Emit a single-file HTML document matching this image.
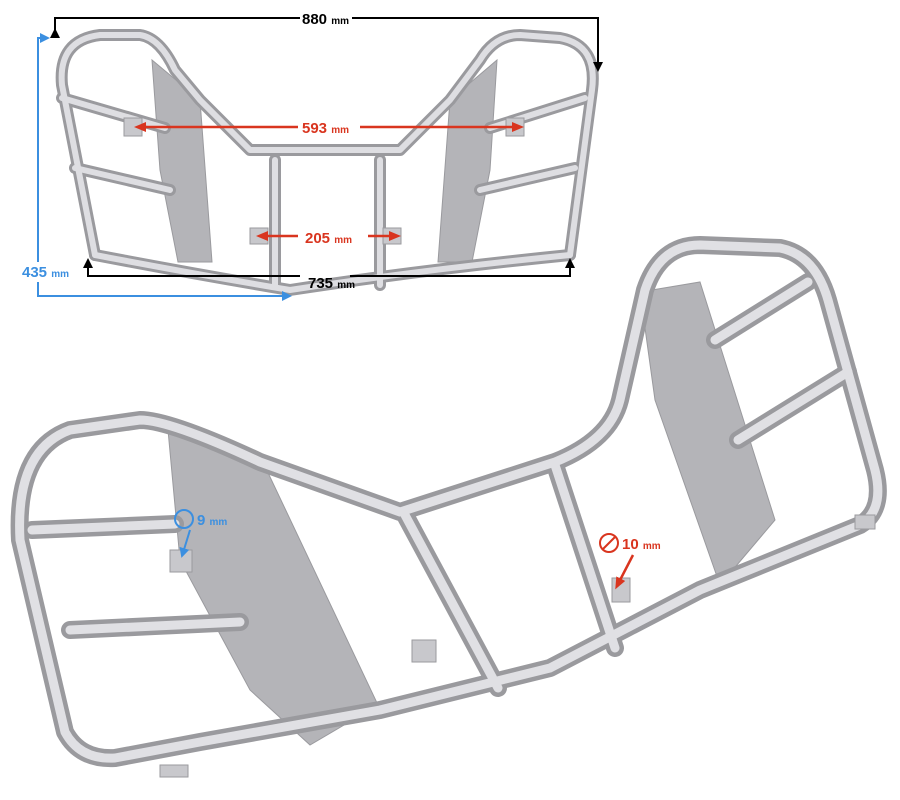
<!DOCTYPE html>
<html><head><meta charset="utf-8"><style>
html,body{margin:0;padding:0;background:#fff;}
svg{display:block;font-family:"Liberation Sans",sans-serif;font-weight:bold;}
</style></head><body>
<svg width="900" height="800" viewBox="0 0 900 800" xmlns="http://www.w3.org/2000/svg">
<defs>
<marker id="ab" markerUnits="userSpaceOnUse" markerWidth="10" markerHeight="10" refX="8" refY="5" orient="auto"><path d="M0,0 L10,5 L0,10 z" fill="#000"/></marker>
<marker id="ar" markerUnits="userSpaceOnUse" markerWidth="12" markerHeight="10" refX="6" refY="5" orient="auto-start-reverse"><path d="M0,0 L12,5 L0,10 z" fill="#d9351f"/></marker>
<marker id="au" markerUnits="userSpaceOnUse" markerWidth="10" markerHeight="10" refX="8" refY="5" orient="auto"><path d="M0,0 L10,5 L0,10 z" fill="#3b8fe0"/></marker>
</defs>
<rect width="900" height="800" fill="#fff"/>

<!-- TOP RACK plates -->
<g fill="#b4b4b8" stroke="#9a9a9e" stroke-width="1">
<polygon points="152,60 200,100 212,262 178,262 160,170"/>
<polygon points="497,60 450,100 438,262 472,262 490,170"/>
</g>
<g fill="none" stroke-linecap="round" stroke-linejoin="round">
<g stroke="#9a9a9e" stroke-width="12">
<path d="M95,255 L62,85 Q58,40 100,35 L140,35 Q160,38 175,70 L200,100 L250,150 L400,150 L450,100 L480,60 Q495,35 520,35 L560,38 Q598,45 592,90 L570,255"/>
<path d="M95,255 Q200,275 290,290 Q420,270 570,255"/>
<path d="M62,98 L165,128 M75,168 L170,190 M585,98 L490,128 M575,168 L480,190"/>
<path d="M275,160 L275,285 M380,160 L380,285"/>
</g>
<g stroke="#dedee2" stroke-width="6">
<path d="M95,255 L62,85 Q58,40 100,35 L140,35 Q160,38 175,70 L200,100 L250,150 L400,150 L450,100 L480,60 Q495,35 520,35 L560,38 Q598,45 592,90 L570,255"/>
<path d="M95,255 Q200,275 290,290 Q420,270 570,255"/>
<path d="M62,98 L165,128 M75,168 L170,190 M585,98 L490,128 M575,168 L480,190"/>
<path d="M275,160 L275,285 M380,160 L380,285"/>
</g>
</g>
<g fill="#c8c8cc" stroke="#9a9a9e"><rect x="124" y="118" width="18" height="18"/><rect x="506" y="118" width="18" height="18"/><rect x="250" y="228" width="18" height="16"/><rect x="383" y="228" width="18" height="16"/></g>

<!-- BOTTOM RACK plates -->
<g fill="#b4b4b8" stroke="#9a9a9e">
<polygon points="168,430 262,460 378,705 310,745 250,690 180,560"/>
<polygon points="640,292 700,282 775,520 720,585 655,400"/>
</g>
<g fill="none" stroke-linecap="round" stroke-linejoin="round">
<g stroke="#9a9a9e" stroke-width="18">
<path d="M65,732 L20,540 Q15,450 70,430 L140,420 Q170,420 260,462 L400,512 L555,462 Q610,440 620,400 L645,290 Q660,245 700,245 L780,248 Q815,255 828,300 L875,470 Q885,510 860,525 L700,590 L550,668 L380,710 L200,742 L115,758 Q80,760 65,732 Z"/>
<path d="M32,530 L175,524 M70,630 L240,622 M715,340 L808,282 M738,440 L848,372"/>
<path d="M405,515 L498,688 M555,465 L615,648"/>
</g>
<g stroke="#e0e0e4" stroke-width="9">
<path d="M65,732 L20,540 Q15,450 70,430 L140,420 Q170,420 260,462 L400,512 L555,462 Q610,440 620,400 L645,290 Q660,245 700,245 L780,248 Q815,255 828,300 L875,470 Q885,510 860,525 L700,590 L550,668 L380,710 L200,742 L115,758 Q80,760 65,732 Z"/>
<path d="M32,530 L175,524 M70,630 L240,622 M715,340 L808,282 M738,440 L848,372"/>
<path d="M405,515 L498,688 M555,465 L615,648"/>
</g>
</g>
<g fill="#c8c8cc" stroke="#9a9a9e"><rect x="170" y="550" width="22" height="22"/><rect x="412" y="640" width="24" height="22"/><rect x="612" y="578" width="18" height="24"/><rect x="855" y="515" width="20" height="14"/><rect x="160" y="765" width="28" height="12"/></g>

<!-- dimensions -->
<g stroke="#000" stroke-width="2" fill="none">
<path d="M55,36 L55,18 L300,18 M352,18 L598,18 L598,70" marker-end="url(#ab)"/>
<path d="M55,36 L55,30" marker-end="url(#ab)"/>
<path d="M88,262 L88,276 L300,276 M350,276 L570,276 L570,260" marker-end="url(#ab)"/>
<path d="M88,270 L88,260" marker-end="url(#ab)"/>
</g>
<g stroke="#d9351f" stroke-width="2.5">
<line x1="140" y1="127" x2="298" y2="127" marker-start="url(#ar)"/>
<line x1="360" y1="127" x2="518" y2="127" marker-end="url(#ar)"/>
<line x1="262" y1="236" x2="298" y2="236" marker-start="url(#ar)"/>
<line x1="368" y1="236" x2="395" y2="236" marker-end="url(#ar)"/>
<line x1="633" y1="555" x2="618" y2="584" marker-end="url(#ar)"/>
</g>
<g stroke="#3b8fe0" stroke-width="2" fill="none">
<path d="M38,262 L38,38 L48,38" marker-end="url(#au)"/>
<path d="M38,282 L38,296 L290,296" marker-end="url(#au)"/>
<circle cx="184" cy="519" r="9"/>
<line x1="190" y1="530" x2="182" y2="556" marker-end="url(#au)"/>
</g>
<g stroke="#d9351f" stroke-width="2" fill="none"><circle cx="609" cy="543" r="9"/><line x1="602" y1="550" x2="616" y2="536"/></g>

<g font-size="15">
<text x="302" y="24" fill="#000">880 <tspan font-size="10">mm</tspan></text>
<text x="302" y="133" fill="#d9351f">593 <tspan font-size="10">mm</tspan></text>
<text x="305" y="243" fill="#d9351f">205 <tspan font-size="10">mm</tspan></text>
<text x="308" y="288" fill="#000">735 <tspan font-size="10">mm</tspan></text>
<text x="22" y="277" fill="#3b8fe0">435 <tspan font-size="10">mm</tspan></text>
<text x="197" y="525" fill="#3b8fe0">9 <tspan font-size="10">mm</tspan></text>
<text x="622" y="549" fill="#d9351f">10 <tspan font-size="10">mm</tspan></text>
</g>
</svg>
</body></html>
